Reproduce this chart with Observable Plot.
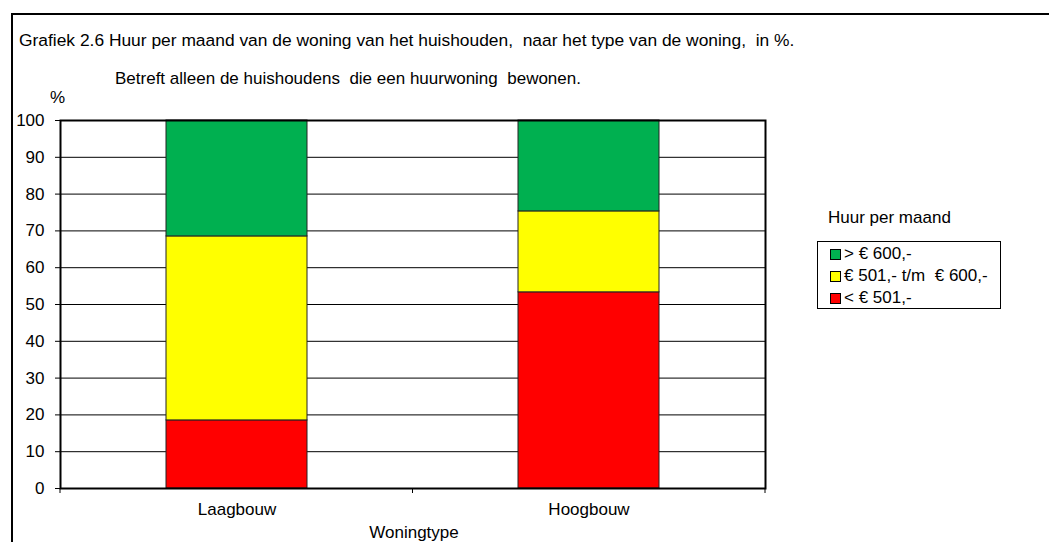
<!DOCTYPE html>
<html>
<head>
<meta charset="utf-8">
<script src="https://cdn.jsdelivr.net/npm/d3@7"></script>
<script src="https://cdn.jsdelivr.net/npm/@observablehq/plot@0.6"></script>
<style>
  html, body { margin: 0; padding: 0; background: #fff; }
  #wrap { position: relative; width: 1049px; height: 542px; overflow: hidden; background: #fff;
          font-family: "Liberation Sans", Arial, sans-serif; color: #000; }
  #border { position: absolute; left: 11px; top: 13px; width: 1100px; height: 700px; border: 2px solid #000; box-sizing: border-box; }
  .t { position: absolute; white-space: pre; font-size: 17px; line-height: 1; }
  #chart { position: absolute; left: 0; top: 100px; }
  #legend { position: absolute; left: 817px; top: 241px; width: 184px; height: 68px; border: 1px solid #000; box-sizing: border-box; }
  .row { position: absolute; left: 12px; height: 22px; display: flex; align-items: center; font-size: 17px; white-space: pre; }
  .sw { width: 9px; height: 9px; border: 1px solid #000; margin-right: 3px; }
</style>
</head>
<body>
<div id="wrap">
  <div id="border"></div>
  <div class="t" id="title" style="left:19px; top:32px; font-size:17.4px;"></div>
  <div class="t" id="subtitle" style="left:115px; top:70px;"></div>
  <div class="t" id="unit" style="left:50px; top:89px;"></div>
  <div id="chart"></div>
  <div class="t" id="legtitle" style="left:828px; top:209px;"></div>
  <div id="legend"></div>
  <div class="t" id="xlabel" style="left:414px; top:524px; transform:translateX(-50%);"></div>
</div>
<script>
const titleText = "Grafiek 2.6 Huur per maand van de woning van het huishouden,  naar het type van de woning,  in %.";
const subtitleText = "Betreft alleen de huishoudens  die een huurwoning  bewonen.";
const unitText = "%";
const xLabelText = "Woningtype";
const legendTitle = "Huur per maand";

const categories = ["Laagbouw", "Hoogbouw"];
const series = ["< € 501,-", "€ 501,- t/m  € 600,-", "> € 600,-"];
const lowRent = [18.5, 53.3];
const midRent = [50.0, 22.0];
const highRent = [31.5, 24.7];
const yTicks = [0, 10, 20, 30, 40, 50, 60, 70, 80, 90, 100];
const colors = ["#FF0000", "#FFFF00", "#00B050"];
const legendOrder = ["> € 600,-", "€ 501,- t/m  € 600,-", "< € 501,-"];

const seriesValues = [lowRent, midRent, highRent];
const data = [];
series.forEach((s, i) => categories.forEach((c, j) => data.push({type: c, series: s, value: seriesValues[i][j]})));

document.getElementById("title").textContent = titleText;
document.getElementById("subtitle").textContent = subtitleText;
document.getElementById("unit").textContent = unitText;
document.getElementById("xlabel").textContent = xLabelText;
document.getElementById("legtitle").textContent = legendTitle;

const chart = Plot.plot({
  width: 800,
  height: 442,
  marginLeft: 60,
  marginRight: 35,
  marginTop: 20,
  marginBottom: 54,
  style: {fontFamily: "'Liberation Sans', Arial, sans-serif", fontSize: "17px", color: "#000", background: "transparent", overflow: "visible"},
  x: {domain: categories, paddingInner: 0.6, paddingOuter: 0.3, label: null, tickSize: 0, tickPadding: 14},
  y: {domain: [0, 100], ticks: yTicks, label: null, tickSize: 5, tickPadding: 11},
  color: {domain: series, range: colors},
  marks: [
    Plot.ruleY(yTicks.filter(t => t > 0 && t < 100), {stroke: "#000", strokeWidth: 1}),
    Plot.barY(data, {x: "type", y: "value", fill: "series", stroke: "#222", strokeWidth: 1, order: series}),
    Plot.frame({stroke: "#000", strokeWidth: 2})
  ]
});
document.getElementById("chart").appendChild(chart);

// category boundary ticks on the x axis, placed through the band scale
const xs = chart.scale("x");
const ys = chart.scale("y");
const gap = (xs.step - xs.bandwidth) / 2;
const bounds = [xs.range[0]].concat(categories.slice(0, -1).map(c => xs.apply(c) + xs.bandwidth + gap), [xs.range[1]]);
const y0 = ys.apply(0);
d3.select(chart).append("g").selectAll("line").data(bounds).join("line")
  .attr("x1", d => d).attr("x2", d => d).attr("y1", y0).attr("y2", y0 + 5)
  .attr("stroke", "#000").attr("stroke-width", 1);

// legend
const leg = document.getElementById("legend");
const cScale = chart.scale("color");
legendOrder.forEach((s, i) => {
  const row = document.createElement("div");
  row.className = "row";
  row.style.top = (1 + i * 22) + "px";
  const sw = document.createElement("span");
  sw.className = "sw";
  sw.style.background = cScale.apply(s);
  const tx = document.createElement("span");
  tx.textContent = s;
  row.appendChild(sw);
  row.appendChild(tx);
  leg.appendChild(row);
});
</script>
</body>
</html>
